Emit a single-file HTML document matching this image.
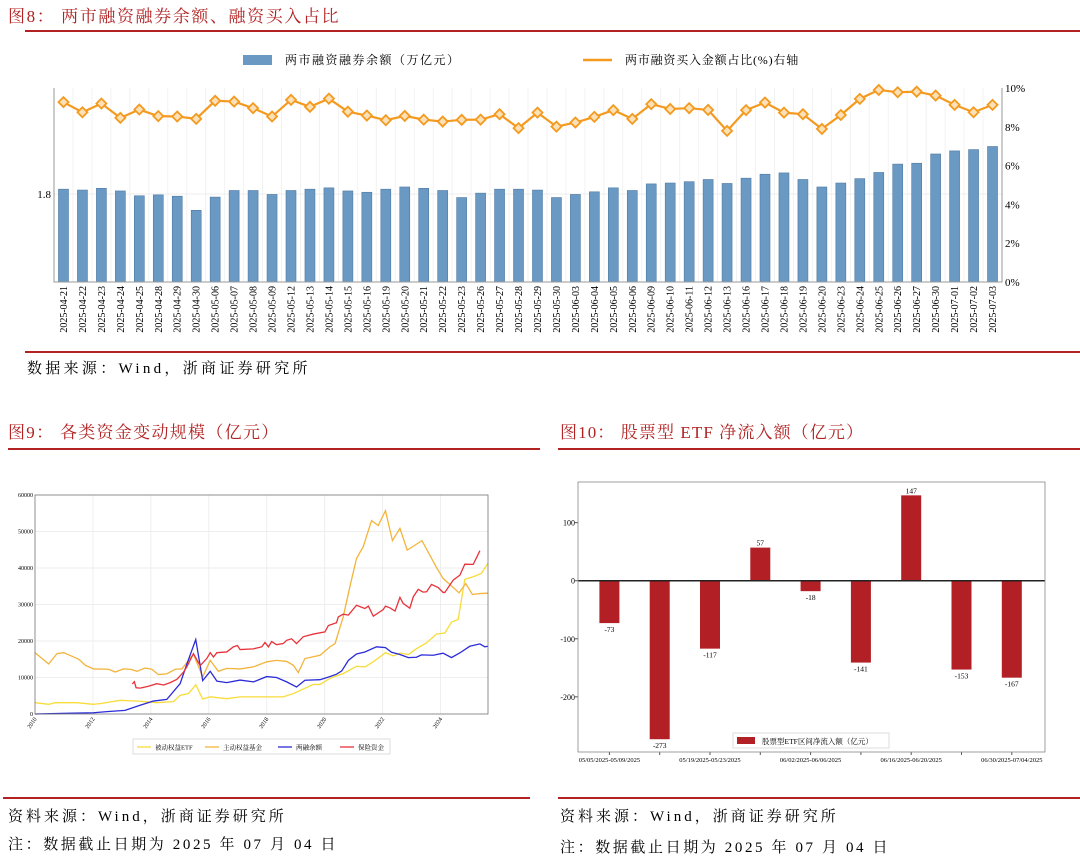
<!DOCTYPE html>
<html><head><meta charset="utf-8"><style>
body{margin:0;background:#fff;}
svg{display:block;font-family:"Liberation Serif","Noto Serif CJK SC",serif;}
</style></head><body>
<svg id="root" width="1080" height="861" viewBox="0 0 1080 861" xmlns="http://www.w3.org/2000/svg">
<rect width="1080" height="861" fill="#fff"/>
<text x="8" y="22" font-size="17" fill="#b22222" letter-spacing="1.6">图8：  两市融资融券余额、融资买入占比</text>
<line x1="25" y1="31" x2="1080" y2="31" stroke="#b22222" stroke-width="2"/>
<g>
<rect x="243" y="55" width="29" height="10" fill="#6a9ac4"/>
<text x="285" y="64" font-size="12" letter-spacing="1.5">两市融资融券余额（万亿元）</text>
<line x1="583" y1="60" x2="612" y2="60" stroke="#f39a1f" stroke-width="2.5"/>
<text x="625" y="64" font-size="12" letter-spacing="0.8">两市融资买入金额占比(%)右轴</text>
</g>
<g id="fig8"></g>
<line x1="25" y1="352" x2="1080" y2="352" stroke="#b22222" stroke-width="2"/>
<text x="27" y="373" font-size="15" letter-spacing="3.3">数据来源：Wind，浙商证券研究所</text>

<text x="8" y="438" font-size="17" fill="#b22222" letter-spacing="1.3">图9：  各类资金变动规模（亿元）</text>
<line x1="8" y1="449" x2="540" y2="449" stroke="#b22222" stroke-width="2"/>
<g id="fig9"></g>
<line x1="3" y1="798" x2="530" y2="798" stroke="#b22222" stroke-width="2"/>
<text x="8" y="821" font-size="15" letter-spacing="3">资料来源：Wind，浙商证券研究所</text>
<text x="8" y="849" font-size="15" letter-spacing="2.6">注：数据截止日期为 2025 年 07 月 04 日</text>

<text x="560" y="438" font-size="17" fill="#b22222" letter-spacing="1.1">图10：  股票型 ETF 净流入额（亿元）</text>
<line x1="558" y1="449" x2="1080" y2="449" stroke="#b22222" stroke-width="2"/>
<g id="fig10"></g>
<line x1="558" y1="798" x2="1080" y2="798" stroke="#b22222" stroke-width="2"/>
<text x="560" y="821" font-size="15" letter-spacing="3">资料来源：Wind，浙商证券研究所</text>
<text x="560" y="852" font-size="15" letter-spacing="2.6">注：数据截止日期为 2025 年 07 月 04 日</text>
</svg>
<script>
const NS="http://www.w3.org/2000/svg";
function mk(parent,tag,attrs,text){const e=document.createElementNS(NS,tag);for(const k in attrs)e.setAttribute(k,attrs[k]);if(text!==undefined)e.textContent=text;parent.appendChild(e);return e;}

const dates8=["2025-04-21","2025-04-22","2025-04-23","2025-04-24","2025-04-25","2025-04-28","2025-04-29","2025-04-30","2025-05-06","2025-05-07","2025-05-08","2025-05-09","2025-05-12","2025-05-13","2025-05-14","2025-05-15","2025-05-16","2025-05-19","2025-05-20","2025-05-21","2025-05-22","2025-05-23","2025-05-26","2025-05-27","2025-05-28","2025-05-29","2025-05-30","2025-06-03","2025-06-04","2025-06-05","2025-06-06","2025-06-09","2025-06-10","2025-06-11","2025-06-12","2025-06-13","2025-06-16","2025-06-17","2025-06-18","2025-06-19","2025-06-20","2025-06-23","2025-06-24","2025-06-25","2025-06-26","2025-06-27","2025-06-30","2025-07-01","2025-07-02","2025-07-03"];
const balance8=[1.811,1.809,1.813,1.807,1.796,1.798,1.795,1.763,1.793,1.808,1.808,1.799,1.808,1.811,1.814,1.807,1.804,1.811,1.816,1.813,1.808,1.792,1.802,1.811,1.811,1.809,1.792,1.799,1.805,1.814,1.808,1.823,1.825,1.828,1.833,1.824,1.836,1.845,1.848,1.833,1.816,1.825,1.835,1.849,1.868,1.870,1.891,1.898,1.901,1.908];
const ratio8=[9.27,8.75,9.20,8.46,8.89,8.55,8.53,8.41,9.34,9.30,8.96,8.53,9.39,9.03,9.45,8.78,8.58,8.34,8.56,8.37,8.27,8.36,8.37,8.65,7.93,8.73,8.01,8.22,8.51,8.86,8.41,9.17,8.92,8.96,8.87,7.79,8.86,9.25,8.73,8.65,7.89,8.61,9.44,9.90,9.78,9.81,9.61,9.13,8.75,9.13];
const leftTicks8=[1.8];
const rightTicks8=[0,2,4,6,8,10];

const passiveYears=[2010.0,2010.47,2010.7,2011.45,2012.0,2012.25,2012.94,2013.63,2014.2,2014.78,2015.01,2015.3,2015.55,2015.79,2016.05,2016.62,2017.08,2018.0,2018.57,2018.92,2019.61,2019.84,2020.13,2020.3,2020.64,2021.1,2021.39,2021.68,2022.1,2022.37,2022.6,2022.89,2023.17,2023.52,2023.86,2024.15,2024.38,2024.61,2024.84,2025.13,2025.41,2025.64];
const passiveVals=[3100,2650,3100,3100,2650,2850,3750,3500,3100,3400,5100,5600,8000,4100,4700,4200,4700,4700,4700,5600,8100,8100,9500,10150,11070,13080,12900,14300,16800,15900,16700,16300,17900,19500,21900,22200,25200,25900,36900,37600,38500,41300];
const activeYears=[2010.0,2010.47,2010.76,2010.99,2011.28,2011.51,2011.74,2012.02,2012.54,2012.77,2013.06,2013.29,2013.52,2013.8,2014.03,2014.26,2014.55,2014.84,2015.07,2015.47,2015.79,2016.05,2016.33,2016.62,2017.08,2017.54,2018.0,2018.34,2018.69,2018.92,2019.09,2019.32,2019.84,2020.18,2020.36,2020.64,2020.87,2021.1,2021.33,2021.62,2021.85,2022.1,2022.34,2022.6,2022.85,2023.36,2023.86,2024.09,2024.64,2024.87,2025.1,2025.36,2025.64];
const activeVals=[16800,13700,16550,16800,15800,15000,13350,12350,12260,11500,12350,12260,11700,12600,12260,10800,11000,12260,12350,16400,10150,14700,11700,12500,12350,12900,14300,14700,14400,13350,11350,15200,16100,18400,19300,26600,34850,42600,45800,53000,51650,55700,47500,50850,44900,47500,40150,37150,33200,35750,32750,33000,33100];
const marginYears=[2010.0,2011.1,2012.02,2012.48,2013.11,2013.63,2014.09,2014.55,2015.01,2015.24,2015.55,2015.79,2016.05,2016.28,2016.62,2017.08,2017.54,2018.0,2018.34,2018.69,2019.03,2019.32,2019.84,2020.18,2020.41,2020.59,2020.82,2021.1,2021.39,2021.79,2022.1,2022.31,2022.6,2022.89,2023.17,2023.34,2023.75,2024.09,2024.38,2024.67,2025.01,2025.36,2025.53,2025.64];
const marginVals=[0,200,350,650,1000,2400,3550,4000,8300,13600,20400,9150,11700,9000,8600,9300,8800,10250,10000,8800,7400,9250,9400,10250,10900,11800,14700,16450,17000,18400,18200,16900,16300,15450,15550,16200,16100,16650,15450,16750,18550,19200,18400,18550];
const insurYears=[2013.36,2013.43,2013.49,2013.63,2013.92,2014.2,2014.44,2014.67,2014.9,2015.13,2015.24,2015.47,2015.7,2015.93,2016.05,2016.16,2016.28,2016.62,2016.85,2016.99,2017.08,2017.54,2017.83,2017.94,2018.06,2018.17,2018.34,2018.57,2018.69,2018.86,2019.03,2019.26,2019.61,2020.01,2020.13,2020.41,2020.47,2020.64,2020.82,2021.1,2021.39,2021.51,2021.68,2022.02,2022.1,2022.25,2022.43,2022.6,2022.71,2022.94,2023.06,2023.23,2023.4,2023.52,2023.69,2023.92,2024.09,2024.15,2024.44,2024.67,2024.84,2025.13,2025.36];
const insurVals=[8250,8850,7200,7100,7600,8300,7950,8600,9500,11500,12900,16550,13250,15200,16800,15600,16800,17000,18400,18750,17650,17850,18400,19600,18400,19850,19000,19300,20200,20600,19300,21150,21900,22500,24250,25000,26600,27350,27100,29800,28900,29550,26800,28600,29550,29100,28200,31950,30300,29000,32100,34150,33400,33500,35500,34650,33300,33300,36700,38050,41050,41000,44750];
const yTicks9=[0,10000,20000,30000,40000,50000,60000];
const xTicks9=[2010,2012,2014,2016,2018,2020,2022,2024];

const weeks10=["05/05/2025-05/09/2025","05/12/2025-05/16/2025","05/19/2025-05/23/2025","05/26/2025-05/30/2025","06/02/2025-06/06/2025","06/09/2025-06/13/2025","06/16/2025-06/20/2025","06/23/2025-06/27/2025","06/30/2025-07/04/2025"];
const flows10=[-73,-273,-117,57,-18,-141,147,-153,-167];
const yTicks10=[-200,-100,0,100];

(function(){
  const g=document.getElementById('fig8');
  const L=54,R=1002,T=88,B=282;
  const band=(R-L)/dates8.length;
  const xc=i=>L+band*(i+0.5);
  const yl=v=>B-(v-1.6)/(2.041-1.6)*(B-T);
  const yr=p=>B-p/10*(B-T);
  for(let i=0;i<=dates8.length;i++){
    const gl=mk(g,'line',{x1:L+band*i,x2:L+band*i,y1:T,y2:B,stroke:'#f2f2f2','stroke-width':1});
    
    
  }
  leftTicks8.forEach(v=>{
    const gl=mk(g,'line',{x1:L,x2:R,y1:yl(v),y2:yl(v),stroke:'#ececec'});
    
    
    const t=mk(g,'text',{x:L-3,y:yl(v)+4,'font-size':11,'text-anchor':'end'},v.toFixed(1));
    
    
  });
  balance8.forEach((v,i)=>{
    const r=mk(g,'rect',{x:xc(i)-5,y:yl(v),width:10,height:B-yl(v),fill:'#6a9ac4',stroke:'#4f7aa3','stroke-width':0.6});
    
    
  });
  const pts=ratio8.map((p,i)=>xc(i)+','+yr(p)).join(' ');
  const pl=mk(g,'polyline',{points:pts,fill:'none',stroke:'#f39a1f','stroke-width':2.2});
  
  
  ratio8.forEach((p,i)=>{
    const x=xc(i),y=yr(p);
    const d=mk(g,'polygon',{points:`${x},${y-5} ${x+5},${y} ${x},${y+5} ${x-5},${y}`,fill:'#fbe0b8',stroke:'#f39a1f','stroke-width':1.8});
    
    
  });
  const ax=mk(g,'path',{d:`M${L},${T}V${B}H${R}V${T}`,fill:'none',stroke:'#999','stroke-width':1});
  
  
  rightTicks8.forEach(p=>{
    const t=mk(g,'text',{x:R+3,y:yr(p)+4,'font-size':11},p+'%');
    
    
  });
  dates8.forEach((d,i)=>{
    const t=mk(g,'text',{x:0,y:0,'font-size':10,'text-anchor':'end',transform:`translate(${xc(i)+3.5},${B+4}) rotate(-90)`},d);
    
    
  });
})();

(function(){
  const g=document.getElementById('fig9');
  const L=35,R=488,T=495,B=714;
  const x=yv=>L+(yv-2010)/(2025.64-2010)*(R-L);
  const y=v=>B-v/60000*(B-T);
  xTicks9.forEach(t=>{
    const gl=mk(g,'line',{x1:x(t),x2:x(t),y1:T,y2:B,stroke:'#eee'});
    
    
    const tx=mk(g,'text',{x:0,y:0,'font-size':6,'text-anchor':'end',transform:`translate(${x(t)+2},${B+5}) rotate(-55)`},t);
    
    
  });
  yTicks9.forEach(t=>{
    const gl=mk(g,'line',{x1:L,x2:R,y1:y(t),y2:y(t),stroke:'#eee'});
    
    
    const tx=mk(g,'text',{x:L-2,y:y(t)+2,'font-size':6,'text-anchor':'end'},t);
    
    
  });
  const series=[[passiveYears,passiveVals,'#f7dc3a','passive-etf-line'],[activeYears,activeVals,'#f3b43c','active-fund-line'],[marginYears,marginVals,'#2b2bd9','margin-balance-line'],[insurYears,insurVals,'#e8323a','insurance-fund-line']];
  series.forEach(s=>{
    const p=mk(g,'polyline',{points:s[0].map((yy,i)=>x(yy)+','+y(s[1][i])).join(' '),fill:'none',stroke:s[2],'stroke-width':1.3});
    
    
  });
  const ax=mk(g,'rect',{x:L,y:T,width:R-L,height:B-T,fill:'none',stroke:'#777','stroke-width':0.8});
  
  
  const lg=mk(g,'g',{});
  
  
  mk(lg,'rect',{x:133,y:739,width:257,height:15,fill:'#fff',stroke:'#ddd'});
  const items=[['被动权益ETF','#f7dc3a',137],['主动权益基金','#f3b43c',205],['两融余额','#2b2bd9',278],['保险资金','#e8323a',340]];
  items.forEach(it=>{
    const l=mk(lg,'line',{x1:it[2],x2:it[2]+14,y1:747,y2:747,stroke:it[1],'stroke-width':1.3});
    
    
    const t=mk(lg,'text',{x:it[2]+18,y:749.5,'font-size':6.5},it[0]);
    
    
  });
})();

(function(){
  const g=document.getElementById('fig10');
  const L=578,R=1045,T=482,B=752;
  const vmin=-295,vmax=170;
  const y=v=>B-(v-vmin)/(vmax-vmin)*(B-T);
  const step=50.3, first=L+31.4;
  const xc=i=>first+i*step;
  yTicks10.forEach(t=>{
    const tx=mk(g,'text',{x:L-3,y:y(t)+3,'font-size':8,'text-anchor':'end'},t);
    
    
    mk(g,'line',{x1:L-3,x2:L,y1:y(t),y2:y(t),stroke:'#555'});
  });
  flows10.forEach((v,i)=>{
    const y0=y(0),yv=y(v);
    const r=mk(g,'rect',{x:xc(i)-10,y:Math.min(y0,yv),width:20,height:Math.abs(yv-y0),fill:'#b21f24'});
    
    
    const lbl=mk(g,'text',{x:xc(i),y:v>=0?yv-2:yv+9,'font-size':7.5,'text-anchor':'middle'},v);
    
    
    mk(g,'line',{x1:xc(i),x2:xc(i),y1:B,y2:B+3,stroke:'#555'});
    if(i%2===0){
      const t=mk(g,'text',{x:xc(i),y:B+10,'font-size':6.5,'text-anchor':'middle'},weeks10[i]);
      
      
    }
  });
  const z=mk(g,'line',{x1:L,x2:R,y1:y(0),y2:y(0),stroke:'#222','stroke-width':1.5});
  
  
  const ax=mk(g,'rect',{x:L,y:T,width:R-L,height:B-T,fill:'none',stroke:'#888','stroke-width':0.8});
  
  
  const lg=mk(g,'g',{});
  
  
  mk(lg,'rect',{x:733,y:733,width:156,height:15,fill:'#fff',stroke:'#ddd'});
  mk(lg,'rect',{x:737,y:737,width:18,height:7,fill:'#b21f24'});
  const lt=mk(lg,'text',{x:762,y:744,'font-size':7.5},'股票型ETF区间净流入额（亿元）');
  
  
})();
</script>
</body></html>
